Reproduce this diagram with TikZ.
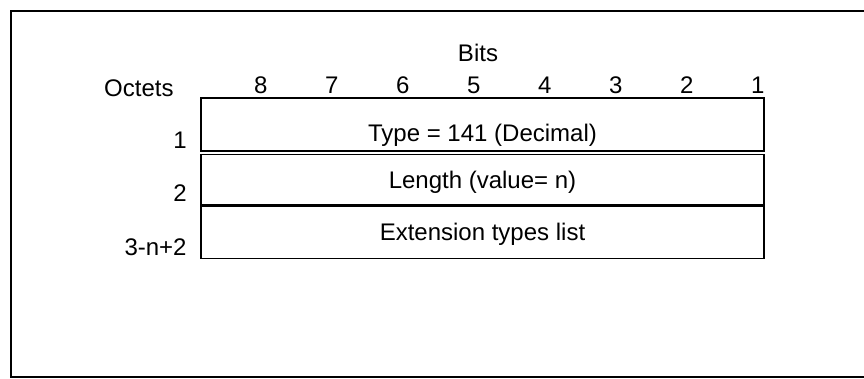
\documentclass[tikz,border=0pt]{standalone}
\usepackage{fontspec}
\setmainfont{Liberation Sans}
\usetikzlibrary{positioning}
\tikzset{
  fieldbox/.style={
    draw=black,
    line width=0.65pt,
    minimum width=281.5pt,
    minimum height=26.5pt,
    inner sep=0pt,
    outer sep=0pt,
    text height=8.6pt,
    text depth=0pt,
    font=\fontsize{12}{14}\selectfont
  },
  lbl/.style={
    inner sep=0pt,
    text height=8.6pt,
    text depth=0pt,
    font=\fontsize{12}{14}\selectfont
  },
  sepline/.style={
    line width=1.25pt
  },
  frameline/.style={
    line width=1pt
  }
}

\begin{document}
\begin{tikzpicture}[x=0.5pt, y=-0.5pt, node distance=1.75pt]
  \useasboundingbox (0,0) rectangle (864,379);
  \draw[frameline] (864,11) -- (11,11) -- (11,377) -- (864,377);
  \node[fieldbox, anchor=north west, text height=17.2pt] (type) at (201,98) {Type = 141 (Decimal)};
  \node[fieldbox, minimum height=25.5pt, below=of type] (length) {Length (value= n)};
  \node[fieldbox, below=0pt of length] (ext) {Extension types list};
  \draw[sepline] (length.south west) -- (length.south east);
  \node[lbl] (bits) at (478,52.5) {Bits};
  \node[lbl, anchor=east] (octets) at (174,88) {Octets};
  \foreach \b [count=\i] in {8,7,...,1}
    \node[lbl] (bit\b) at (189.7+71*\i,85) {\b};
  \node[lbl, anchor=east] (oct1) at (187,140) {1};
  \node[lbl, anchor=east] (oct2) at (187,192.5) {2};
  \node[lbl, anchor=east] (oct3) at (187,247) {3-n+2};
\end{tikzpicture}
\end{document}
